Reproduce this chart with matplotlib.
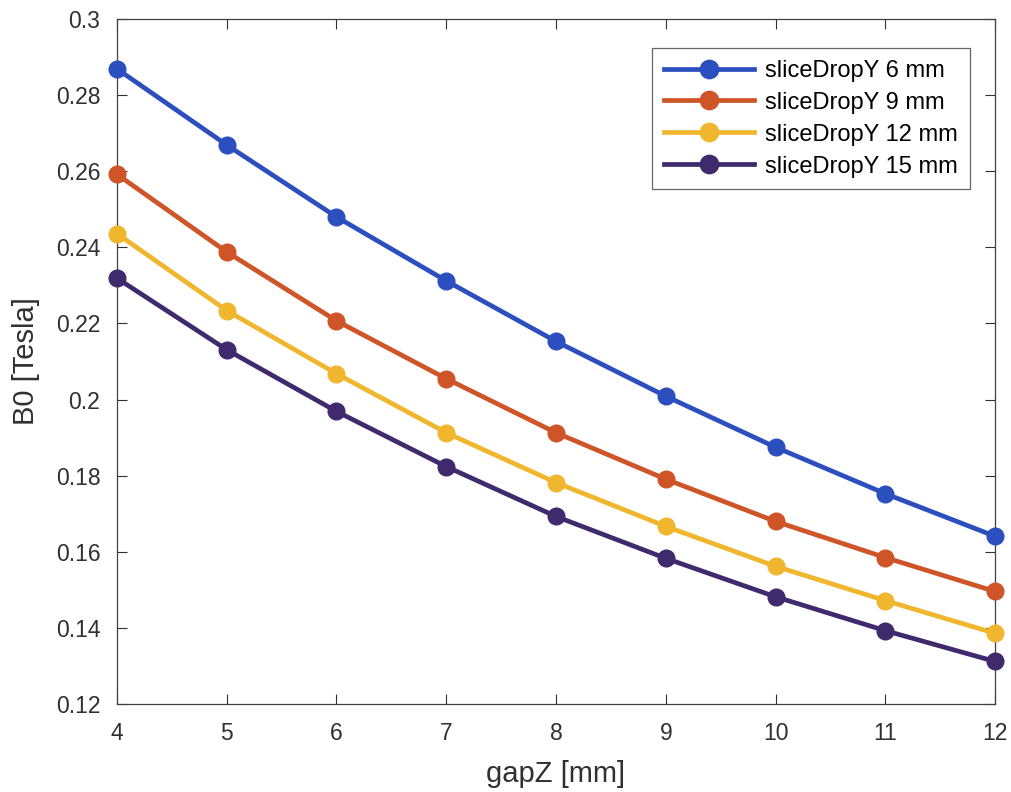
import numpy as np
import matplotlib.pyplot as plt

plt.rcParams['font.family'] = ['Liberation Sans', 'DejaVu Sans']

gapZ = [4, 5, 6, 7, 8, 9, 10, 11, 12]
drop6 = [0.2869, 0.2669, 0.2480, 0.2312, 0.2153, 0.2009, 0.1875, 0.1753, 0.1641]
drop9 = [0.2592, 0.2388, 0.2207, 0.2055, 0.1913, 0.1791, 0.1680, 0.1585, 0.1496]
drop12 = [0.2436, 0.2234, 0.2068, 0.1913, 0.1782, 0.1667, 0.1562, 0.1472, 0.1386]
drop15 = [0.2319, 0.2131, 0.1969, 0.1824, 0.1693, 0.1583, 0.1482, 0.1393, 0.1312]

labels = ['sliceDropY 6 mm', 'sliceDropY 9 mm', 'sliceDropY 12 mm', 'sliceDropY 15 mm']
colors = ['#2c4fbf', '#cf5428', '#f0b62e', '#3e2a6c']

fig = plt.figure(figsize=(10.11, 7.92), dpi=100)
ax = fig.add_axes([0.1157, 0.111, 0.8685, 0.865])

for ys, lab, c in zip([drop6, drop9, drop12, drop15], labels, colors):
    ax.plot(gapZ, ys, '-o', color=c, lw=3.4, ms=12, label=lab, clip_on=False, zorder=3)

ax.set_xlim(4, 12)
ax.set_ylim(0.12, 0.3)
ax.set_xticks(np.arange(4, 13, 1))
ax.set_yticks(np.arange(0.12, 0.301, 0.02))
ax.set_yticklabels(['0.12', '0.14', '0.16', '0.18', '0.2', '0.22', '0.24', '0.26', '0.28', '0.3'])
ax.tick_params(direction='in', top=True, right=True, length=7, width=0.8,
               labelsize=16.5, colors='#303030')
ax.tick_params(axis='y', pad=12)
ax.tick_params(axis='x', pad=13)
for s in ax.spines.values():
    s.set_color('#404040')
    s.set_linewidth(0.9)

ax.set_xlabel('gapZ [mm]', fontsize=21, color='#303030', labelpad=11)
ax.set_ylabel('B0 [Tesla]', fontsize=21, color='#303030', labelpad=11)

leg = ax.legend(loc='upper right', fontsize=17, frameon=True, fancybox=False,
                edgecolor='#404040', handlelength=3.8, handletextpad=0.5,
                borderpad=0.5, labelspacing=0.42, markerscale=1.1,
                borderaxespad=0, bbox_to_anchor=(0.9715, 0.9577))
leg.get_frame().set_linewidth(0.9)

fig.savefig('out.png', dpi=100)
